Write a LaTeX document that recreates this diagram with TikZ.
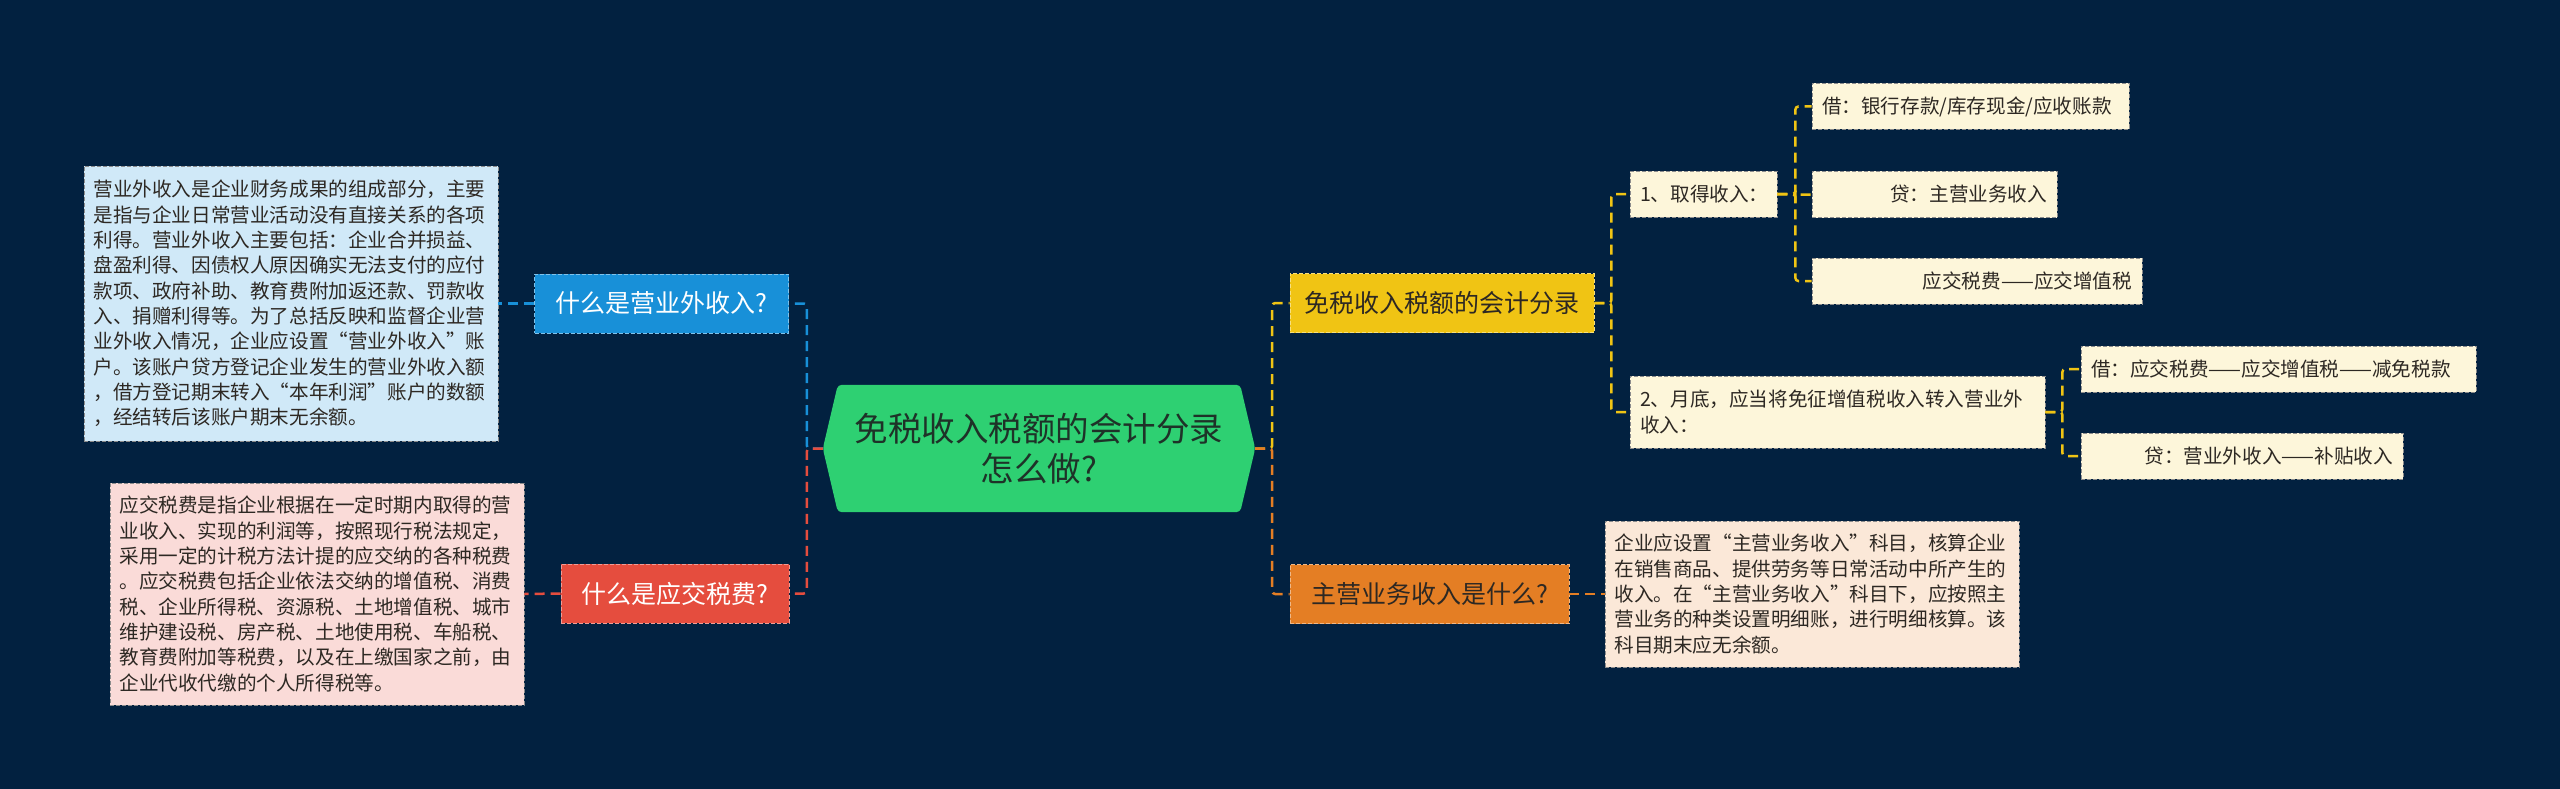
\documentclass[tikz,border=0pt]{standalone}
\usepackage{fontspec}
\newfontfamily\cjk{Noto Sans CJK SC}
\usetikzlibrary{positioning,calc,backgrounds}
\definecolor{mapNavy}{RGB}{2,33,64}
\definecolor{rootGreen}{RGB}{46,208,114}
\definecolor{waiBlue}{RGB}{24,144,216}
\definecolor{shuiRed}{RGB}{229,77,62}
\definecolor{fenluYellow}{RGB}{240,196,20}
\definecolor{zhuOrange}{RGB}{228,126,36}
\definecolor{blueNote}{RGB}{208,233,248}
\definecolor{redNote}{RGB}{250,219,216}
\definecolor{orangeNote}{RGB}{251,232,216}
\definecolor{creamNote}{RGB}{253,246,218}
\definecolor{inkDark}{RGB}{45,40,35}

\tikzset{
  box/.style={draw=black!45, dash pattern=on 4pt off 2pt, line width=0.8pt, inner sep=0pt, text=inkDark},
  topic/.style={box, fill=#1, draw=#1!55!white, minimum height=59pt, font=\cjk\fontsize{25}{30}\selectfont},
  note/.style={box, fill=#1, inner xsep=9.5pt, text width=395pt, align=left, font=\cjk\fontsize{19.6}{25.3}\selectfont},
  leaf/.style={box, fill=creamNote, inner xsep=10pt, minimum height=46pt, font=\cjk\fontsize{19.6}{25.3}\selectfont},
  link/.style={draw=#1, line width=2.5pt, dash pattern=on 10pt off 6pt, rounded corners=3pt},
}

\begin{document}
\begin{tikzpicture}[x=1pt,y=-1pt]
\useasboundingbox (0,0) rectangle (2560,789);

% centre
\node[minimum width=402pt, minimum height=127pt, inner sep=0pt, align=center, text={rgb,255:red,30;green,50;blue,40},
      font=\cjk\fontsize{33.5}{40}\selectfont] (root) at (1039,448.5) {免税收入税额的会计分录\\怎么做?};
\coordinate (rootL) at ([xshift=-15pt]root.west);
\coordinate (rootR) at ([xshift=15pt]root.east);

% left side
\node[topic=waiBlue, text=white, minimum width=254pt] (qblue) at (661.5,303.5) {什么是营业外收入?};
\node[note=blueNote, minimum height=275pt] (tblue) at (291,303.5)
  {营业外收入是企业财务成果的组成部分，主要\\是指与企业日常营业活动没有直接关系的各项\\利得。营业外收入主要包括：企业合并损益、\\盘盈利得、因债权人原因确实无法支付的应付\\款项、政府补助、教育费附加返还款、罚款收\\入、捐赠利得等。为了总括反映和监督企业营\\业外收入情况，企业应设置“营业外收入”账\\户。该账户贷方登记企业发生的营业外收入额\\，借方登记期末转入“本年利润”账户的数额\\，经结转后该账户期末无余额。};
\node[topic=shuiRed, text=white, minimum width=228pt] (qred) at (675,593.5) {什么是应交税费?};
\node[note=redNote, minimum height=222pt] (tred) at (317,594)
  {应交税费是指企业根据在一定时期内取得的营\\业收入、实现的利润等，按照现行税法规定，\\采用一定的计税方法计提的应交纳的各种税费\\。应交税费包括企业依法交纳的增值税、消费\\税、企业所得税、资源税、土地增值税、城市\\维护建设税、房产税、土地使用税、车船税、\\教育费附加等税费，以及在上缴国家之前，由\\企业代收代缴的个人所得税等。};

% right side
\node[topic=fenluYellow, minimum width=304pt] (qyellow) at (1442,303) {免税收入税额的会计分录};
\node[leaf, text width=127pt, align=left] (s1) at (1703.5,194) {1、取得收入：};
\node[leaf, text width=297pt, align=left] (d1) at (1970.5,106.5) {借：银行存款/库存现金/应收账款};
\node[leaf, text width=225pt, align=right] (c1) at (1934.5,194.5) {贷：主营业务收入};
\node[leaf, text width=310pt, align=right] (c2) at (1977,281) {应交税费——应交增值税};
\node[leaf, text width=395pt, align=left, minimum height=72pt] (s2) at (1837.5,412) {2、月底，应当将免征增值税收入转入营业外\\收入：};
\node[leaf, text width=375pt, align=left] (d2) at (2278.5,369) {借：应交税费——应交增值税——减免税款};
\node[leaf, text width=302pt, align=right] (c3) at (2242,456) {贷：营业外收入——补贴收入};

\node[topic=zhuOrange, minimum width=279pt] (qorange) at (1429.5,594) {主营业务收入是什么?};
\node[note=orangeNote, minimum height=146pt] (torange) at (1812,594)
  {企业应设置“主营业务收入”科目，核算企业\\在销售商品、提供劳务等日常活动中所产生的\\收入。在“主营业务收入”科目下，应按照主\\营业务的种类设置明细账，进行明细核算。该\\科目期末应无余额。};

% links
\draw[link=waiBlue] (rootL) -- ++(-16,0) |- (qblue.east);
\draw[link=shuiRed] (rootL) -- ++(-16,0) |- (qred.east);
\draw[link=waiBlue] (qblue.west) -- (tblue.east);
\draw[link=shuiRed] (qred.west) -- (tred.east);
\draw[link=fenluYellow] (rootR) -- ++(17,0) |- (qyellow.west);
\draw[link=zhuOrange] (rootR) -- ++(17,0) |- (qorange.west);
\draw[link=zhuOrange] (qorange.east) -- (torange.west);
\draw[link=fenluYellow] (qyellow.east) -- ++(17,0) |- (s1.west);
\draw[link=fenluYellow] (qyellow.east) -- ++(17,0) |- (s2.west);
\foreach \k in {d1,c1,c2}
  \draw[link=fenluYellow] (s1.east) -- ++(18,0) |- (\k.west);
\foreach \k in {d2,c3}
  \draw[link=fenluYellow] (s2.east) -- ++(17,0) |- (\k.west);

\begin{scope}[on background layer]
  \fill[mapNavy] (0,0) rectangle (2560,789);
  \fill[rootGreen, rounded corners=4pt] (root.north west) -- (root.north east) -- (rootR) -- (root.south east)
    -- (root.south west) -- (rootL) -- cycle;
\end{scope}
\end{tikzpicture}
\end{document}
